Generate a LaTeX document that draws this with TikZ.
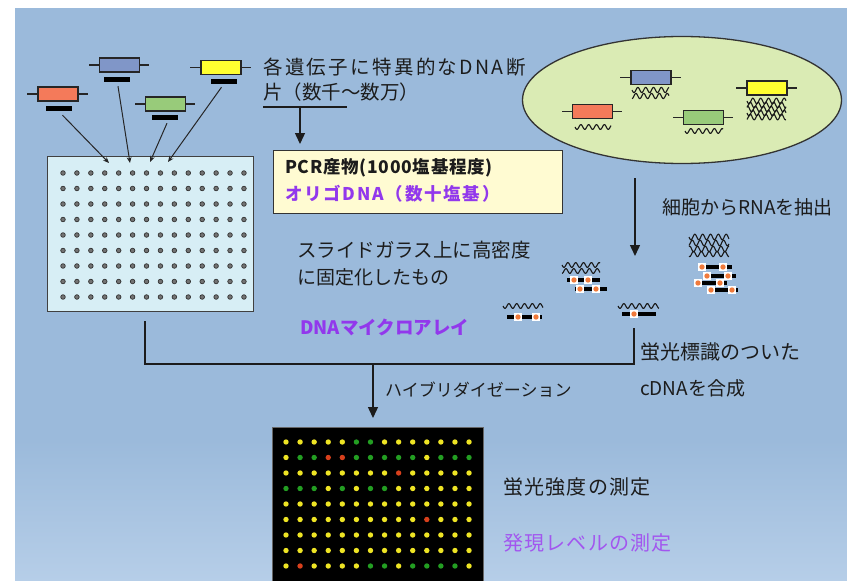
\documentclass[tikz,border=0pt]{standalone}
\usepackage{fontspec}
\newfontfamily\jp{Noto Sans CJK JP}
\newfontfamily\jpwide[LetterSpace=6]{Noto Sans CJK JP}
\newfontfamily\jpwider[LetterSpace=12]{Noto Sans CJK JP}
\newfontfamily\jpbold[LetterSpace=4]{Noto Sans CJK JP}
\newfontfamily\jpboldwide[LetterSpace=10]{Noto Sans CJK JP}
\usetikzlibrary{arrows.meta,shapes.geometric}

\definecolor{bgblue}{HTML}{9BBADB}
\definecolor{bgbluelow}{HTML}{B6CEE8}
\definecolor{chipfill}{HTML}{D7EEF5}
\definecolor{cellfill}{HTML}{DAEBB4}
\definecolor{notefill}{HTML}{FFFBD2}
\definecolor{genered}{HTML}{F47A5A}
\definecolor{geneblue}{HTML}{8096C8}
\definecolor{genegreen}{HTML}{98CB7A}
\definecolor{geneyellow}{HTML}{FFFF30}
\definecolor{labelpurple}{HTML}{9238EC}
\definecolor{inkdark}{HTML}{1C1C1C}
\definecolor{spotY}{HTML}{EEE424}
\definecolor{spotG}{HTML}{239E22}
\definecolor{spotR}{HTML}{D8401C}
\definecolor{dye}{HTML}{F07A3C}

% a gene: coloured box with a lead line on each side
\newcommand\drawgene[4]{%
  \node[genebox, fill=#2] (#1) at (#3,#4) {};
  \draw[lead] (#1.west) -- ++(-10,0) (#1.east) -- ++(9,0);
}
% a strand of RNA: x0, length, y, amplitude, phase
\newcommand\wavyline[5]{%
  \draw[wave] plot[domain=0:#2, samples=70, smooth] ({#1+\x}, {#3+#4*sin(\x*46+#5)});
}
% a labelled cDNA strand: x0, x1, y
\newcommand\cdnabar[3]{\draw[cbar] (#1,#3) -- (#2,#3);}
% fluorescent label on a strand
\newcommand\dyemark[2]{%
  \fill[white] (#1-4,#2-4) rectangle (#1+4,#2+4);
  \fill[dye] (#1,#2) circle (2.7);
}

\begin{document}
\begin{tikzpicture}[x=1pt,y=-1pt,
  genebox/.style={draw=black!85, line width=1.2pt, minimum width=40pt,
                  minimum height=14pt, inner sep=0pt},
  probe/.style={fill=black, minimum width=26pt, minimum height=5pt, inner sep=0pt},
  lead/.style={draw=black!85, line width=1.1pt},
  wave/.style={draw=black!90, line width=1.1pt},
  cbar/.style={draw=black, line width=3.6pt},
  feed/.style={draw=black!85, line width=1pt, -{Stealth[length=6pt,width=5pt]}},
  flow/.style={draw=inkdark, line width=1.4pt, -{Triangle[length=11pt,width=10pt]}},
  conn/.style={draw=inkdark, line width=1.4pt},
  txt/.style={font=\jp\fontsize{19}{19}\selectfont, anchor=west, inner sep=0pt, text=inkdark},
  boldtxt/.style={txt, font=\jpbold\bfseries\fontsize{17.5}{17.5}\selectfont},
]
\useasboundingbox (0,0) rectangle (847,581);

% backdrop
\fill[white] (0,0) rectangle (847,581);
\fill[bgblue] (15,8) rectangle (847,441);
\shade[top color=bgblue, bottom color=bgbluelow] (15,440) rectangle (847,581);

% ---------- probes spotted onto the slide ----------
\drawgene{gR}{genered}{58}{94}
\drawgene{gB}{geneblue}{119.5}{65}
\drawgene{gG}{genegreen}{165.5}{104}
\drawgene{gY}{geneyellow}{221}{67.5}
\node[probe] (pR) at (58.5,108.5) {};
\node[probe] (pB) at (117,79.5) {};
\node[probe] (pG) at (165,117.5) {};
\node[probe] (pY) at (223.5,81.5) {};

\node[draw=black!75, fill=chipfill, line width=1.2pt, minimum width=206pt,
      minimum height=155pt, anchor=north west, inner sep=0pt] (chip) at (47,156) {};
\foreach \i in {0,...,13}{
  \foreach \j in {0,...,8}{
    \filldraw[fill=black!55, draw=black!80, line width=0.7pt]
      (63+13.92*\i, 173+15.5*\j) circle (2.3);
  }
}

\coordinate (tR) at (109,163);
\coordinate (tB) at (130,163);
\coordinate (tG) at (150,162);
\coordinate (tY) at (168,162);
\draw[feed] ([shift={(4,4)}]pR.south) -- (tR);
\draw[feed] ([shift={(1,4)}]pB.south) -- (tB);
\draw[feed] ([shift={(2,3)}]pG.south) -- (tG);
\draw[feed] ([shift={(-2,3)}]pY.south) -- (tY);

% ---------- probe description ----------
\node[txt, font=\jpwider\fontsize{19.5}{19.5}\selectfont] (probeA) at (263,67) {各遺伝子に特異的なDNA断};
\node[txt, font=\jp\fontsize{19.5}{19.5}\selectfont] (probeB) at (263,92) {片（数千〜数万）};
\coordinate (ulL) at (263,107);
\coordinate (ulR) at (347,107);
\draw[conn] (ulL) -- (ulR);
\coordinate (ulArrow) at (300,107);
\coordinate (ulTip) at (300,144);
\draw[flow] (ulArrow) -- (ulTip);

\node[draw=black!80, fill=notefill, line width=1pt, minimum width=289pt,
      minimum height=63pt, anchor=north west, inner sep=0pt] (note) at (273,150) {};
\node[boldtxt] (pcr) at (285,168) {PCR産物(1000塩基程度)};
\node[boldtxt, text=labelpurple, font=\jpboldwide\bfseries\fontsize{17.5}{17.5}\selectfont] (oligo) at (285,194) {オリゴDNA（数十塩基）};

\node[txt, font=\jp\fontsize{19.5}{19.5}\selectfont] (slideA) at (297,250) {スライドガラス上に高密度};
\node[txt] (slideB) at (297,277) {に固定化したもの};
\node[txt, text=labelpurple, font=\jp\bfseries\fontsize{18.5}{18.5}\selectfont] (arrayname) at (300,327) {DNAマイクロアレイ};

% ---------- the cell and its transcripts ----------
\node[ellipse, draw=black!80, fill=cellfill, line width=1.3pt,
      minimum width=319pt, minimum height=127pt, inner sep=0pt] (cell) at (682,100) {};
\drawgene{cR}{genered}{592.5}{111.5}
\drawgene{cB}{geneblue}{651}{77.5}
\drawgene{cG}{genegreen}{703.5}{117.5}
\drawgene{cY}{geneyellow}{767}{88}
\wavyline{575}{36}{127}{2.4}{0}
\wavyline{632}{37}{90}{2.6}{0}
\wavyline{632}{37}{96}{2.6}{90}
\wavyline{685}{38}{131}{2.4}{0}
\foreach \r [count=\k from 0] in {101,105,109,113,117}{
  \wavyline{747}{39}{\r}{2.8}{\k*120}
}

\coordinate (extractTop) at (635,178);
\coordinate (extractTip) at (635,256);
\draw[flow] (extractTop) -- (extractTip);
\node[txt] (extract) at (662,207) {細胞からRNAを抽出};

% labelled cDNA
\wavyline{562}{38}{265}{2.4}{0}
\wavyline{562}{38}{271}{2.4}{90}
\cdnabar{567}{600}{280} \dyemark{574}{280} \dyemark{588}{280}
\cdnabar{575}{607}{289} \dyemark{580}{289} \dyemark{596}{289}

\wavyline{503}{40}{306}{2.4}{0}
\cdnabar{507}{542}{317} \dyemark{518}{317} \dyemark{536}{317}

\wavyline{618}{41}{306}{2.4}{0}
\cdnabar{622}{656}{314} \dyemark{634}{314}

\wavyline{689}{40}{237}{2.8}{0}
\wavyline{689}{40}{243}{2.8}{120}
\wavyline{689}{40}{249}{2.8}{240}
\wavyline{689}{40}{254}{2.6}{60}
\cdnabar{698}{732}{267} \dyemark{702}{267} \dyemark{723}{267}
\cdnabar{703}{736}{276} \dyemark{707}{276} \dyemark{728}{276}
\cdnabar{695}{727}{283} \dyemark{698}{283} \dyemark{720}{283}
\cdnabar{707}{738}{290} \dyemark{711}{290} \dyemark{732}{290}

\node[txt, font=\jp\fontsize{20}{20}\selectfont] (labelA) at (640,352) {蛍光標識のついた};
\node[txt] (labelB) at (640,388) {cDNAを合成};

% ---------- hybridization ----------
\coordinate (chipFoot) at (145,321);
\coordinate (cdnaFoot) at (634,328);
\coordinate (joinR) at (634,364);
\draw[conn] (chipFoot) |- (joinR) -- (cdnaFoot);
\coordinate (hybTop) at (373,364);
\coordinate (hybTip) at (373,418);
\draw[flow] (hybTop) -- (hybTip);
\node[txt, font=\jp\fontsize{17}{17}\selectfont] (hyb) at (385,390) {ハイブリダイゼーション};

% ---------- scanned array ----------
\node[fill=black, draw=black!60, line width=0.8pt, minimum width=211pt,
      minimum height=170pt, anchor=north west, inner sep=0pt] (scan) at (272,427) {};
\foreach \row [count=\j from 0] in {
    {Y,Y,Y,Y,Y,G,G,Y,Y,Y,Y,Y,Y,Y},
    {Y,G,G,R,R,G,G,G,G,G,Y,G,G,G},
    {Y,Y,Y,Y,Y,Y,Y,Y,R,Y,Y,Y,Y,Y},
    {G,G,G,Y,G,Y,G,G,Y,Y,Y,Y,Y,Y},
    {Y,Y,Y,Y,Y,Y,Y,Y,Y,Y,Y,Y,Y,Y},
    {Y,Y,Y,Y,Y,Y,Y,Y,Y,Y,R,Y,Y,Y},
    {Y,Y,Y,Y,Y,Y,Y,Y,Y,Y,Y,Y,Y,Y},
    {Y,Y,Y,Y,Y,Y,Y,Y,Y,Y,Y,Y,Y,Y},
    {Y,R,Y,Y,Y,Y,G,G,Y,G,G,G,G,Y}}{
  \foreach \c [count=\i from 0] in \row{
    \fill[spot\c] (286+14.08*\i, 442+15.5*\j) circle (2.7);
  }
}

\node[txt, font=\jpwide\fontsize{20}{20}\selectfont] (measure) at (503,487) {蛍光強度の測定};
\node[txt, font=\jpwide\fontsize{20}{20}\selectfont, text=labelpurple!85] (expression) at (503,543) {発現レベルの測定};
\end{tikzpicture}
\end{document}
